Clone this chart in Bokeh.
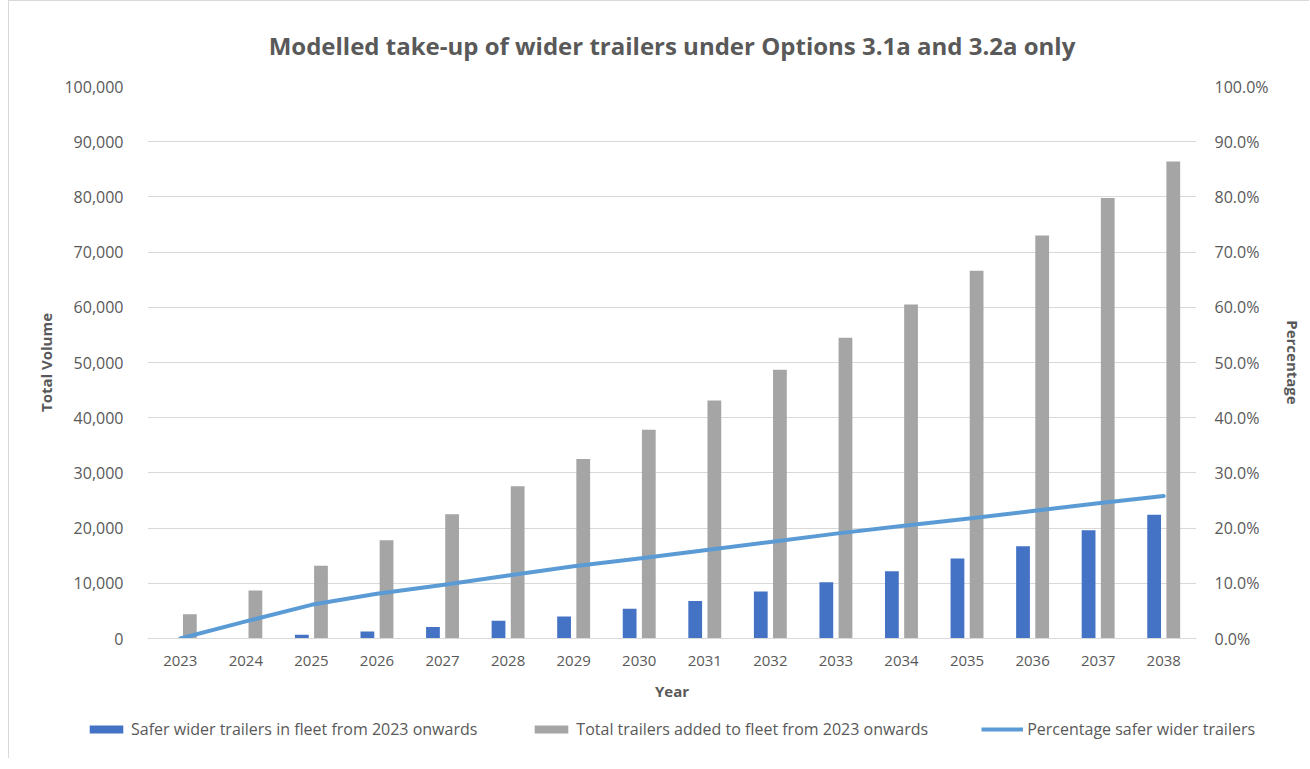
from bokeh.plotting import figure
from bokeh.models import (FactorRange, Range1d, LinearAxis, NumeralTickFormatter,
                          SingleIntervalTicker, Legend, LegendItem, ColumnDataSource)
from bokeh.transform import dodge
from bokeh.embed import file_html
from bokeh.resources import INLINE

years = [str(y) for y in range(2023, 2039)]
safer = [0, 0, 700, 1250, 2100, 3200, 4000, 5400, 6800, 8500, 10200, 12200, 14500, 16700, 19600, 22400]
total = [4400, 8700, 13200, 17800, 22500, 27600, 32500, 37800, 43100, 48700, 54500, 60500, 66600, 73000, 79800, 86400]
pct = [0.0, 0.031, 0.061, 0.081, 0.097, 0.114, 0.131, 0.145, 0.160, 0.175, 0.190, 0.204, 0.217, 0.231, 0.245, 0.258]

title = "Modelled take-up of wider trailers under Options 3.1a and 3.2a only"
labels = ["Safer wider trailers in fleet from 2023 onwards",
          "Total trailers added to fleet from 2023 onwards",
          "Percentage safer wider trailers"]

FONT = "Open Sans"
TXT = "#595959"
GRID = "#d9d9d9"
BLUE = "#4472C4"
GREY = "#A5A5A5"
LINE = "#5B9BD5"

src = ColumnDataSource(dict(year=years, safer=safer, total=total, pct=pct))

p = figure(x_range=FactorRange(*years, range_padding=0), y_range=Range1d(0, 100000),
           frame_width=1049, frame_height=552, output_backend="svg", toolbar_location=None,
           min_border_left=138, min_border_right=113, min_border_top=85, min_border_bottom=70,
           title=title,
           styles={"margin-left": "8px",
                   "border-left": "1px solid #d9d9d9", "border-top": "1px solid #d9d9d9"})
p.extra_y_ranges = {"pct": Range1d(0, 1.0)}

p.title.align = "center"
p.title.text_font = FONT
p.title.text_font_size = "24px"
p.title.text_font_style = "bold"
p.title.text_color = TXT
p.title.standoff = 49

p.outline_line_color = None
p.xgrid.grid_line_color = None
p.ygrid.grid_line_color = GRID
p.ygrid.grid_line_width = 1

r1 = p.vbar(x=dodge("year", -0.146, range=p.x_range), top="safer", width=0.21, source=src,
            fill_color=BLUE, line_color=None)
r2 = p.vbar(x=dodge("year", 0.146, range=p.x_range), top="total", width=0.21, source=src,
            fill_color=GREY, line_color=None)
r3 = p.line(x="year", y="pct", source=src, y_range_name="pct", line_width=4,
            line_color=LINE, line_cap="round", line_join="round")

ya = p.yaxis[0]
ya.ticker = SingleIntervalTicker(interval=10000)
ya.formatter = NumeralTickFormatter(format="0,0")
ya.axis_label = "Total Volume"
ra = LinearAxis(y_range_name="pct", ticker=SingleIntervalTicker(interval=0.1),
                formatter=NumeralTickFormatter(format="0.0%"), axis_label="Percentage")
p.add_layout(ra, "right")

xa = p.xaxis[0]
xa.axis_label = "Year"

for ax in (ya, ra, xa):
    ax.major_tick_line_color = None
    ax.minor_tick_line_color = None
    ax.major_label_text_font = FONT
    ax.major_label_text_font_size = "16px"
    ax.major_label_text_color = TXT
    ax.axis_label_text_font = FONT
    ax.axis_label_text_font_size = "15px"
    ax.axis_label_text_font_style = "bold"
    ax.axis_label_text_color = TXT
xa.major_label_text_font_size = "15px"

ya.axis_line_color = None
ra.axis_line_color = None
xa.axis_line_color = GRID
ya.major_label_standoff = 18
ya.axis_label_standoff = 5
ra.major_label_standoff = 12
ra.axis_label_standoff = 11
xa.major_label_standoff = 11
xa.axis_label_standoff = 12

# separate legend strip (own root, so its frame spans its whole canvas)
q = figure(width=1300, height=50, output_backend="svg", toolbar_location=None,
           x_axis_type=None, y_axis_type=None, min_border=0,
           x_range=Range1d(0, 1), y_range=Range1d(0, 1),
           styles={"margin-left": "8px", "border-left": "1px solid #d9d9d9"})
q.outline_line_color = None
q.xgrid.grid_line_color = None
q.ygrid.grid_line_color = None
off = ColumnDataSource(dict(x=[5, 6], top=[1, 1], y=[5, 5]))
l1 = q.vbar(x="x", top="top", width=0.1, source=off, fill_color=BLUE, line_color=None)
l2 = q.vbar(x="x", top="top", width=0.1, source=off, fill_color=GREY, line_color=None)
l3 = q.line(x="x", y="y", source=off, line_width=4, line_color=LINE)

legend = Legend(items=[LegendItem(label=labels[0], renderers=[l1]),
                       LegendItem(label=labels[1], renderers=[l2]),
                       LegendItem(label=labels[2], renderers=[l3])],
                orientation="horizontal", location=(76, 18),
                glyph_width=42, glyph_height=10, label_standoff=4, spacing=53,
                label_text_font=FONT, label_text_font_size="16px", label_text_color=TXT,
                border_line_color=None, background_fill_alpha=0, margin=0)
q.add_layout(legend, "center")

open("out.html", "w").write(file_html((p, q), INLINE))
